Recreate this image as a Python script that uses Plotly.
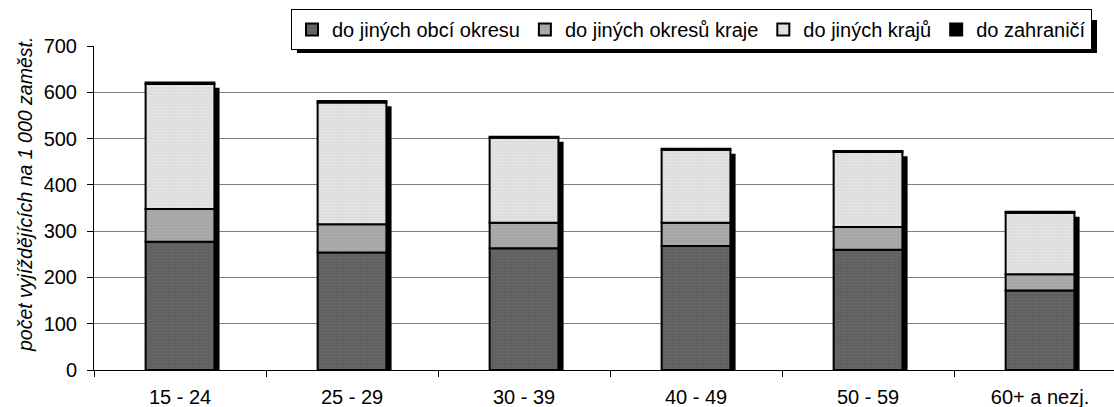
import numpy as np
import plotly.graph_objects as go

categories = ["15 - 24", "25 - 29", "30 - 39", "40 - 49", "50 - 59", "60+ a nezj."]
obce_okresu = [277, 254, 263, 268, 260, 172]
okresy_kraje = [71, 61, 55, 50, 49, 35]
jine_kraje = [270, 263, 184, 158, 162, 133]
zahranici = [3, 3, 2, 2, 2, 2]

series_names = ["do jiných obcí okresu", "do jiných okresů kraje", "do jiných krajů", "do zahraničí"]
series_vals = [obce_okresu, okresy_kraje, jine_kraje, zahranici]
bg_colors = ["#5e5e5e", "#a3a3a3", "#dcdcdc", "#000000"]
fg_colors = ["#7a7a7a", "#bdbdbd", "#f2f2f2", "#000000"]

vals = np.array(series_vals, dtype=float)
bases = np.vstack([np.zeros(vals.shape[1]), np.cumsum(vals, axis=0)[:-1]])
totals = vals.sum(axis=0)

BAR_W = 0.4
SHADOW_DX = 0.03
SHADOW_DY = 11

W, H = 1114, 407
L, R, T, B = 94, 0, 46, 37
PW, PH = W - L - R, H - T - B

fig = go.Figure()

# shadow
fig.add_trace(go.Bar(
    x=categories, y=totals, base=[-SHADOW_DY] * len(categories),
    width=BAR_W, offset=-BAR_W / 2 + SHADOW_DX,
    marker=dict(color="#000000", line=dict(width=0)),
    showlegend=False, hoverinfo="skip",
))

for name, v, b, bg, fg in zip(series_names, vals, bases, bg_colors, fg_colors):
    fig.add_trace(go.Bar(
        x=categories, y=v, base=b, name=name,
        width=BAR_W, offset=-BAR_W / 2,
        marker=dict(
            color=bg,
            line=dict(color="#000000", width=2),
            pattern=dict(shape=".", bgcolor=bg, fgcolor=fg, size=3, solidity=0.35) if name != "do zahraničí" else None,
        ),
    ))

def px_x(p):
    return (p - L) / PW

def px_y(p):
    return (H - B - p) / PH

# legend shadow
fig.add_shape(type="rect", xref="paper", yref="paper", layer="below",
              x0=px_x(297), x1=px_x(1097), y0=px_y(53), y1=px_y(20),
              fillcolor="#000000", line=dict(width=0))

fig.update_layout(
    width=W, height=H,
    margin=dict(l=L, r=R, t=T, b=B),
    barmode="overlay",
    plot_bgcolor="#ffffff", paper_bgcolor="#ffffff",
    font=dict(family="Liberation Sans, Arial, sans-serif", size=20, color="#000000"),
    legend=dict(
        orientation="h", x=px_x(1092), xanchor="right", y=px_y(9), yanchor="top",
        bgcolor="#ffffff", bordercolor="#000000", borderwidth=1,
        font=dict(size=20), itemwidth=30, tracegroupgap=0,
        traceorder="normal",
    ),
    showlegend=True,
    annotations=[dict(
        text="počet vyjíždějících na 1 000 zaměst.", textangle=-90,
        xref="paper", yref="paper", x=px_x(25), y=px_y(195),
        xanchor="center", yanchor="middle", showarrow=False,
        font=dict(size=19.5, style="italic"),
    )],
)

fig.update_xaxes(
    range=[-0.5, 5.43], showgrid=False, showline=True, linecolor="#000000", linewidth=1,
    ticks="outside", tickson="boundaries", ticklen=6, tickcolor="#000000",
    tickfont=dict(size=20), fixedrange=True, ticklabelstandoff=9,
)
fig.update_yaxes(
    range=[0, 700], dtick=100, showgrid=True, gridcolor="#808080", gridwidth=1,
    showline=True, linecolor="#000000", linewidth=1, zeroline=False,
    ticks="outside", ticklen=6, tickcolor="#000000", tickfont=dict(size=20),
    ticklabelstandoff=6, fixedrange=True,
)

fig.write_html("out.html", config={"displayModeBar": False},
               post_script="document.body.style.margin='0';")
